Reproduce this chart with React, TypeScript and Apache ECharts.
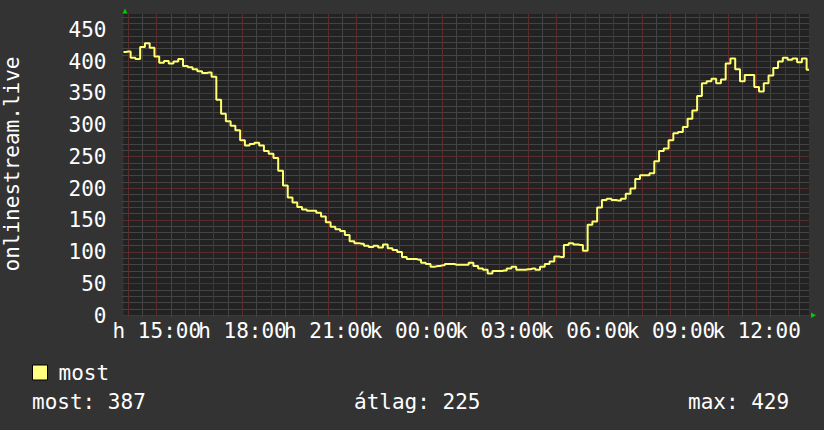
import React, { useEffect, useRef } from "react";
import * as echarts from "echarts";

// 10-minute samples from h 13:50 to k 13:50
const startMinute = 13 * 60 + 50;
const stepMinutes = 10;
const values = [
  415, 416, 406, 404, 423, 429, 422, 408, 398, 401,
  397, 400, 404, 393, 391, 388, 385, 382, 383, 376,
  340, 318, 306, 299, 292, 276, 268, 270, 272, 268,
  259, 255, 248, 228, 205, 186, 178, 171, 167, 165,
  165, 162, 156, 147, 140, 136, 133, 127, 117, 114,
  113, 110, 108, 110, 107, 112, 106, 103, 100, 92,
  89, 89, 88, 83, 81, 77, 78, 79, 81, 81,
  80, 80, 80, 83, 78, 74, 72, 66, 70, 70,
  71, 74, 77, 72, 72, 73, 74, 72, 77, 81,
  85, 93, 92, 111, 114, 112, 111, 102, 143, 148,
  170, 182, 184, 182, 181, 184, 192, 200, 215, 221,
  221, 224, 243, 259, 263, 276, 287, 289, 297, 310,
  323, 346, 366, 369, 373, 366, 372, 397, 405, 388,
  369, 379, 379, 360, 353, 366, 378, 390, 400, 406,
  403, 405, 399, 405, 387,
];
const dayNames = ["h", "k"];
const seriesName = "most";
const yTitle = "onlinestream.live";
const statNames = ["most", "átlag", "max"];
const statValues = [387, 225, 429];
const yMax = 475;
const yMajor = 50;
const yMinor = 10;

const pad = (n: number) => String(n).padStart(2, "0");
const minuteOf = (i: number) => (startMinute + i * stepMinutes) % 1440;
const categories = values.map((_, i) => {
  const m = startMinute + i * stepMinutes;
  const day = dayNames[Math.floor(m / 1440)];
  const mm = m % 1440;
  return `${day} ${pad(Math.floor(mm / 60))}:${pad(mm % 60)}`;
});

// grid line positions: [categoryIndex, 0, isMajor]
const vGrid: number[][] = [];
categories.forEach((_, i) => {
  const m = minuteOf(i);
  if (m % 30 === 0) vGrid.push([i, 0, m % 60 === 0 ? 1 : 0]);
});
vGrid.sort((a, b) => a[2] - b[2]);
// [0, value, isMajor]
const hGrid: number[][] = [];
for (let v = 0; v <= yMax - 5; v += yMinor) hGrid.push([0, v, v % yMajor === 0 ? 1 : 0]);
hGrid.sort((a, b) => a[2] - b[2]);
// x tick labels every 3 hours: [categoryIndex, 0]
const xLabelIdx: number[][] = [];
categories.forEach((_, i) => {
  if (minuteOf(i) % 180 === 0) xLabelIdx.push([i, 0]);
});

const FONT = "DejaVu Sans Mono";
const FS = 21;
const GREY = "#444444";
const RED = "#5a2c2c";

export default function App() {
  const ref = useRef<HTMLDivElement>(null);
  useEffect(() => {
    const chart = echarts.init(ref.current!, null, { renderer: "svg" });
    const txt = { fill: "#fff", font: `${FS}px '${FONT}'`, verticalAlign: "middle" };
    chart.setOption({
      animation: false,
      backgroundColor: "#333333",
      textStyle: { fontFamily: FONT },
      grid: {
        left: 123.5,
        right: 15,
        top: 14,
        bottom: 114.5,
        show: true,
        backgroundColor: "#222222",
        borderWidth: 0,
      },
      legend: {
        left: 32,
        top: 362,
        padding: 0,
        itemWidth: 15,
        itemHeight: 15,
        icon: "rect",
        itemStyle: { color: "#ffff80", borderColor: "#000", borderWidth: 1 },
        textStyle: { color: "#fff", fontFamily: FONT, fontSize: FS, padding: [0, 0, 0, 6] },
        data: [seriesName],
      },
      xAxis: {
        type: "category",
        data: categories,
        boundaryGap: false,
        axisLine: { show: false },
        axisTick: { show: false },
        splitLine: { show: false },
        axisLabel: { show: false },
      },
      yAxis: {
        type: "value",
        min: 0,
        max: yMax,
        interval: yMajor,
        axisLine: { show: false },
        axisTick: { show: false },
        splitLine: { show: false },
        axisLabel: {
          color: "#fff",
          fontFamily: FONT,
          fontSize: FS,
          margin: 17,
          showMaxLabel: false,
          formatter: (v: number) => (v % yMajor === 0 ? String(v) : ""),
        },
      },
      series: [
        {
          type: "custom",
          silent: true,
          clip: false,
          z: 1,
          encode: { x: 0, y: 1 },
          data: vGrid,
          renderItem: (params: any, api: any) => {
            const cs = params.coordSys;
            const major = api.value(2) === 1;
            const x = Math.floor(api.coord([api.value(0), 0])[0]) + 0.5;
            return {
              type: "line",
              z2: major ? 2 : 1,
              shape: { x1: x, y1: cs.y, x2: x, y2: cs.y + cs.height + 2 },
              style: { stroke: major ? RED : GREY, lineWidth: 1 },
            };
          },
        },
        {
          type: "custom",
          silent: true,
          clip: false,
          z: 1,
          encode: { x: 0, y: 1 },
          data: hGrid,
          renderItem: (params: any, api: any) => {
            const cs = params.coordSys;
            const major = api.value(2) === 1;
            const y = Math.floor(api.coord([0, api.value(1)])[1]) + 0.5;
            return {
              type: "line",
              z2: major ? 2 : 1,
              shape: { x1: cs.x - 2, y1: y, x2: cs.x + cs.width, y2: y },
              style: { stroke: major ? RED : GREY, lineWidth: 1 },
            };
          },
        },
        {
          type: "custom",
          silent: true,
          clip: false,
          z: 6,
          encode: { x: 0, y: 1 },
          data: xLabelIdx,
          renderItem: (params: any, api: any) => {
            const cs = params.coordSys;
            const idx = api.value(0);
            const x = api.coord([idx, 0])[0];
            return {
              type: "text",
              x,
              y: cs.y + cs.height + 5,
              style: {
                text: categories[idx],
                fill: "#fff",
                font: `${FS}px '${FONT}'`,
                align: "center",
                verticalAlign: "top",
              },
            };
          },
        },
        {
          name: seriesName,
          type: "line",
          data: values,
          step: "middle",
          showSymbol: false,
          symbol: "none",
          lineStyle: { color: "#ffff70", width: 2 },
          itemStyle: { color: "#ffff80" },
          z: 5,
        },
      ],
      graphic: [
        {
          type: "text",
          x: 12,
          y: 164,
          rotation: Math.PI / 2,
          style: { ...txt, text: yTitle, align: "center" },
        },
        {
          type: "polygon",
          shape: { points: [[122.5, 13.5], [127.5, 13.5], [125, 8.5]] },
          style: { fill: "#00cc00" },
        },
        {
          type: "polygon",
          shape: { points: [[811, 312.5], [811, 318], [816, 315.2]] },
          style: { fill: "#00cc00" },
        },
        { type: "text", x: 32, y: 402, style: { ...txt, text: `${statNames[0]}: ${statValues[0]}` } },
        { type: "text", x: 354, y: 402, style: { ...txt, text: `${statNames[1]}: ${statValues[1]}` } },
        { type: "text", x: 688, y: 402, style: { ...txt, text: `${statNames[2]}: ${statValues[2]}` } },
      ],
    });
    return () => chart.dispose();
  }, []);
  return (
    <div
      ref={ref}
      style={{ position: "fixed", left: 0, top: 0, width: 824, height: 430 }}
    />
  );
}
